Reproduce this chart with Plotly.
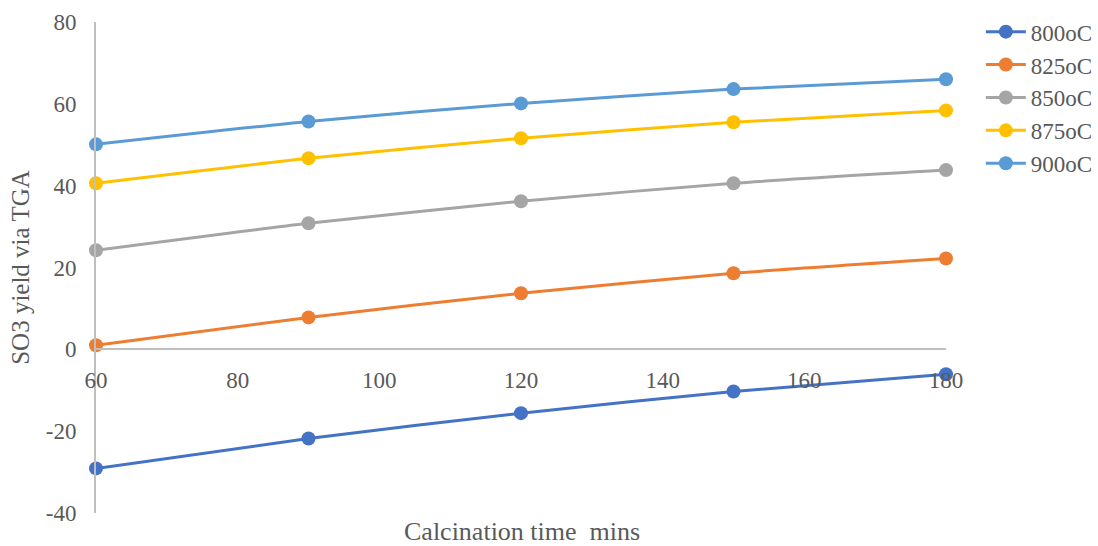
import plotly.graph_objects as go

times = [60, 90, 120, 150, 180]
series_names = ["800oC", "825oC", "850oC", "875oC", "900oC"]
y_800 = [-29.1, -21.8, -15.6, -10.3, -6.1]
y_825 = [1.0, 7.8, 13.7, 18.6, 22.2]
y_850 = [24.2, 30.8, 36.2, 40.6, 43.8]
y_875 = [40.6, 46.7, 51.6, 55.5, 58.4]
y_900 = [50.1, 55.7, 60.1, 63.6, 66.0]
colors = ["#4472C4", "#ED7D31", "#A5A5A5", "#FFC000", "#5B9BD5"]
x_ticks = [60, 80, 100, 120, 140, 160, 180]
y_ticks = [-40, -20, 0, 20, 40, 60, 80]
y_tick_text = ["-40", "-20", "0", "20", "40", "60", "80"]

all_y = [y_800, y_825, y_850, y_875, y_900]
FONT = "Liberation Serif"
TXT = "#595959"

fig = go.Figure()
for name, ys, c in zip(series_names, all_y, colors):
    fig.add_trace(go.Scatter(
        x=times, y=ys, name=name, mode="lines+markers",
        line=dict(color=c, width=3, shape="spline", smoothing=0.6),
        marker=dict(color=c, size=14), cliponaxis=False,
    ))

fig.update_layout(
    width=1098, height=546,
    margin=dict(l=96, r=152, t=22, b=33, autoexpand=False),
    plot_bgcolor="white", paper_bgcolor="white",
    font=dict(family=FONT, size=23, color=TXT),
    showlegend=True,
    legend=dict(x=1.041, y=1.024, xanchor="left", yanchor="top",
                font=dict(family=FONT, size=23, color=TXT),
                tracegroupgap=0, itemwidth=40, bgcolor="rgba(0,0,0,0)"),
    xaxis=dict(range=[60, 180], tickvals=x_ticks,
               showgrid=False, zeroline=False, showline=True,
               linecolor="#BFBFBF", linewidth=2,
               anchor="free", position=1/3,
               ticks="outside", ticklen=10, tickcolor="rgba(0,0,0,0)",
               tickfont=dict(family=FONT, size=23, color=TXT)),
    yaxis=dict(range=[-40, 80], tickvals=y_ticks, ticktext=y_tick_text,
               showgrid=False, zeroline=False, showline=True,
               linecolor="#BFBFBF", linewidth=2,
               ticks="outside", ticklen=13, tickcolor="rgba(0,0,0,0)",
               tickfont=dict(family=FONT, size=23, color=TXT),
               title=dict(text="SO3 yield via TGA", standoff=9,
                          font=dict(family=FONT, size=25, color=TXT))),
)
fig.add_annotation(text="Calcination time  mins", xref="paper", yref="paper",
                   x=(522 - 96) / 850, y=0, yshift=-18, yanchor="middle",
                   showarrow=False, font=dict(family=FONT, size=26, color=TXT))

fig.write_html("out.html")
